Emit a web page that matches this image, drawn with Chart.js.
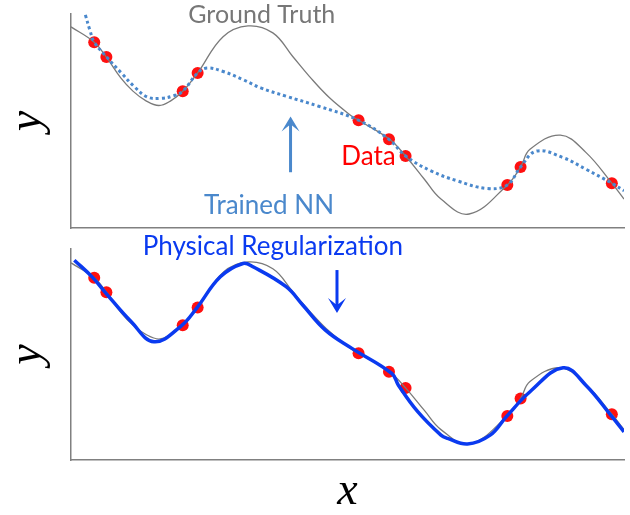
<!DOCTYPE html>
<html>
<head>
<meta charset="utf-8">
<script src="https://cdn.jsdelivr.net/npm/chart.js@4.4.1/dist/chart.umd.min.js"></script>
<style>
  body { margin: 0; background: #fff; }
  #wrap { position: relative; width: 630px; height: 515px; }
  #topChart { position: absolute; left: 0; top: 0; }
  #bottomChart { position: absolute; left: 0; top: 234px; }
</style>
</head>
<body>
<div id="wrap">
  <canvas id="topChart" width="630" height="234" style="width:630px;height:234px"></canvas>
  <canvas id="bottomChart" width="630" height="281" style="width:630px;height:281px"></canvas>
</div>
<script>
// ground truth curve (same in both panels)
const truthX = [0, 0.42, 0.64, 0.9, 1.12, 1.35, 1.59, 1.81, 2.02, 2.29, 2.75, 3.2, 3.65, 4.01, 4.31, 4.67, 5.08, 5.2, 5.76, 6.05, 6.39, 6.69, 7.2, 7.89, 8.13, 8.3, 8.85, 9.31, 9.78, 10];
const truthY = [9.9, 9.09, 8.3, 7.2, 6.5, 6.0, 5.74, 6.0, 6.49, 7.46, 9.38, 9.95, 9.58, 8.33, 7.28, 6.16, 5.17, 4.96, 3.95, 3.07, 1.84, 0.79, 0, 1.54, 2.49, 3.42, 4.17, 3.26, 1.63, 0.79];

// observed data points
const dataX = [0.42, 0.64, 2.02, 2.29, 5.2, 5.75, 6.05, 7.89, 8.13, 9.78];
const dataY = [9.09, 8.3, 6.49, 7.46, 4.96, 3.95, 3.07, 1.54, 2.49, 1.63];

// trained NN (top panel)
const nnX = [0.26, 0.34, 0.42, 0.64, 0.91, 1.14, 1.38, 1.62, 1.86, 2.02, 2.29, 2.46, 2.75, 3.11, 3.43, 3.89, 4.48, 5.2, 5.75, 6.05, 6.51, 6.99, 7.53, 7.89, 8.13, 8.42, 8.9, 9.31, 9.78, 10];
const nnY = [10.53, 9.74, 9.09, 8.32, 7.46, 6.75, 6.19, 6.12, 6.26, 6.49, 7.46, 7.72, 7.54, 7.11, 6.67, 6.23, 5.7, 4.96, 3.95, 3.07, 2.28, 1.75, 1.35, 1.54, 2.49, 3.33, 2.98, 2.37, 1.63, 1.23];

// physically regularized NN (bottom panel)
const physX = [0.06, 0.39, 0.61, 1.09, 1.5, 1.99, 2.27, 2.7, 3.11, 3.29, 3.89, 4.19, 4.6, 5.08, 5.8, 5.92, 6.27, 6.69, 6.81, 7.17, 7.58, 7.87, 8.3, 8.9, 9.31, 9.76, 10];
const physY = [10.05, 9.11, 8.32, 6.68, 5.59, 6.45, 7.42, 9.14, 9.87, 9.69, 8.6, 7.6, 6.23, 5.23, 3.86, 3.22, 1.77, 0.49, 0.31, 0, 0.49, 1.49, 2.86, 4.17, 3.22, 1.58, 0.67];

const pts = (xs, ys) => xs.map((x, i) => ({ x: x, y: ys[i] }));

const notes = {
  id: 'notes',
  afterDatasetsDraw(chart, args, opts) {
    const ctx = chart.ctx, sx = chart.scales.x, sy = chart.scales.y;
    ctx.save();
    (opts.arrows || []).forEach(a => {
      const x = sx.getPixelForValue(a.x);
      const y0 = sy.getPixelForValue(a.from), y1 = sy.getPixelForValue(a.to);
      const dir = y1 > y0 ? 1 : -1;
      ctx.strokeStyle = a.color; ctx.fillStyle = a.color; ctx.lineWidth = 3;
      ctx.beginPath(); ctx.moveTo(x, y0); ctx.lineTo(x, y1 - dir * 6); ctx.stroke();
      ctx.beginPath();
      ctx.moveTo(x, y1);
      ctx.lineTo(x - 9, y1 - dir * 15);
      ctx.lineTo(x - 1.5, y1 - dir * 9);
      ctx.lineTo(x + 1.5, y1 - dir * 9);
      ctx.lineTo(x + 9, y1 - dir * 15);
      ctx.closePath(); ctx.fill();
    });
    (opts.labels || []).forEach(l => {
      ctx.font = l.size + 'px Lato';
      ctx.fillStyle = l.color;
      ctx.textAlign = 'center';
      ctx.textBaseline = 'middle';
      ctx.fillText(l.text, sx.getPixelForValue(l.x), sy.getPixelForValue(l.y));
    });
    ctx.restore();
  }
};

function makeScales(yMin, yMax, xHeight, xTitle) {
  return {
    x: {
      type: 'linear', min: 0, max: 10,
      grid: { display: false, drawTicks: false },
      ticks: { display: false },
      border: { color: '#808080', width: 1.5 },
      title: { display: !!xTitle, text: xTitle || '', color: '#000', padding: 0,
               font: { family: '"Liberation Serif"', style: 'italic', size: 46, lineHeight: 1.0 } },
      afterFit: s => { s.height = xHeight; }
    },
    y: {
      min: yMin, max: yMax,
      grid: { display: false, drawTicks: false },
      ticks: { display: false },
      border: { color: '#808080', width: 1.5 },
      title: { display: true, text: 'y', color: '#000', padding: 0,
               font: { family: '"Liberation Serif"', style: 'italic', size: 46, lineHeight: 1.2 } },
      afterFit: s => { s.width = 71; }
    }
  };
}

const truthSet = {
  type: 'line', data: pts(truthX, truthY), borderColor: '#7a7a7a', borderWidth: 1.3,
  pointRadius: 0, tension: 0.4, order: 1
};
const dotSet = {
  type: 'scatter', data: pts(dataX, dataY), backgroundColor: '#ff1010', borderWidth: 0,
  pointRadius: 6, order: 2
};

new Chart(document.getElementById('topChart'), {
  type: 'line',
  data: {
    datasets: [
      { type: 'line', data: pts(nnX, nnY), borderColor: '#4a88cc', borderWidth: 3, borderDash: [3, 3],
        pointRadius: 0, tension: 0.4, order: 0 },
      truthSet,
      dotSet
    ]
  },
  options: {
    responsive: false, animation: false,
    layout: { padding: { top: 14, right: 0, bottom: 0, left: 0 } },
    scales: makeScales(-0.74, 10.58, 5, ''),
    plugins: {
      legend: { display: false }, tooltip: { enabled: false },
      notes: {
        labels: [
          { text: 'Ground Truth', x: 3.45, y: 10.55, color: '#777777', size: 25 },
          { text: 'Data', x: 5.38, y: 3.05, color: '#ff0000', size: 26 },
          { text: 'Trained NN', x: 3.58, y: 0.42, color: '#4a88cc', size: 26 }
        ],
        arrows: [ { x: 3.97, from: 2.21, to: 5.16, color: '#4a88cc' } ]
      }
    }
  },
  plugins: [notes]
});

new Chart(document.getElementById('bottomChart'), {
  type: 'line',
  data: {
    datasets: [
      { type: 'line', data: pts(physX, physY), borderColor: '#0a3af0', borderWidth: 3.5,
        pointRadius: 0, tension: 0.4, order: 0 },
      truthSet,
      dotSet
    ]
  },
  options: {
    responsive: false, animation: false,
    layout: { padding: { top: 15, right: 0, bottom: 0, left: 0 } },
    scales: makeScales(-0.87, 10.66, 55, 'x'),
    plugins: {
      legend: { display: false }, tooltip: { enabled: false },
      notes: {
        labels: [
          { text: 'Physical Regularization', x: 3.65, y: 10.77, color: '#0a3af0', size: 26 }
        ],
        arrows: [ { x: 4.81, from: 9.51, to: 7.16, color: '#0a3af0' } ]
      }
    }
  },
  plugins: [notes]
});
</script>
</body>
</html>
